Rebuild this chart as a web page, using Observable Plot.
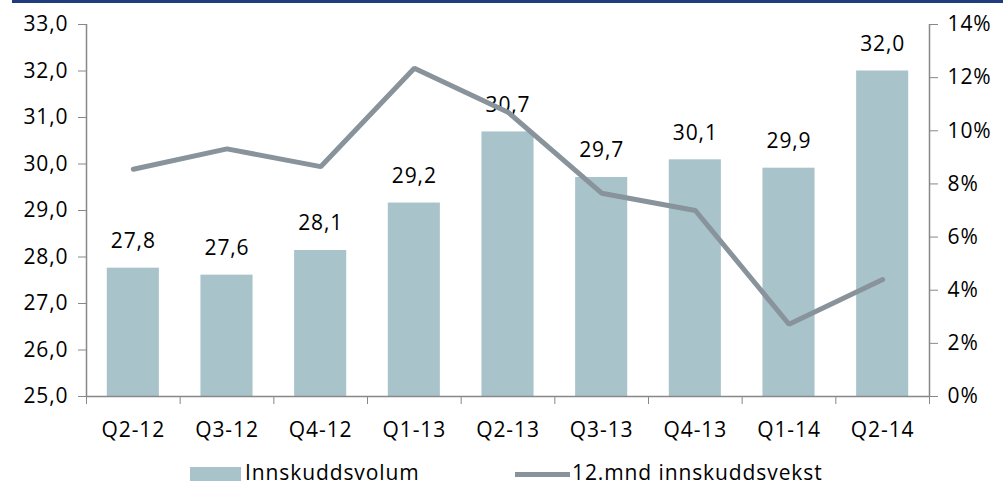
<!DOCTYPE html>
<html><head><meta charset="utf-8">
<script src="https://cdn.jsdelivr.net/npm/d3@7"></script>
<script src="https://cdn.jsdelivr.net/npm/@observablehq/plot@0.6"></script>
<style>
body{margin:0;background:#fff;font-family:"Open Sans",sans-serif;}
#wrap{position:relative;width:1003px;height:485px;}
#topline{position:absolute;left:12px;right:0;top:0;height:3px;background:#1f3c7c;}
#chart{position:absolute;left:0;top:0;}
#legend{position:absolute;top:461px;left:0;width:1003px;height:24px;font-size:21px;color:#000;}
.sw{position:absolute;}
.lt{position:absolute;top:-3px;letter-spacing:0.9px;white-space:nowrap;}
</style></head>
<body><div id="wrap"><div id="chart"></div><div id="topline"></div>
<div id="legend">
<div class="sw" style="left:190px;top:6px;width:51px;height:14px;background:#a9c3ca"></div>
<div class="lt" style="left:245px">Innskuddsvolum</div>
<div class="sw" style="left:515px;top:11px;width:55px;height:5px;background:#88939b"></div>
<div class="lt" style="left:572px">12.mnd innskuddsvekst</div>
</div></div>
<script>
const quarters = ["Q2-12","Q3-12","Q4-12","Q1-13","Q2-13","Q3-13","Q4-13","Q1-14","Q2-14"];
const volum = [27.76, 27.61, 28.14, 29.16, 30.69, 29.71, 30.09, 29.91, 32.0];
const volumLabels = ["27,8","27,6","28,1","29,2","30,7","29,7","30,1","29,9","32,0"];
const vekst = [8.55, 9.32, 8.65, 12.35, 10.7, 7.65, 7.0, 2.72, 4.4];
const leftTicks = [25,26,27,28,29,30,31,32,33];
const rightTicks = [0,2,4,6,8,10,12,14];

const toLeft = p => 25 + p * 8 / 14;
const data = quarters.map((q, i) => ({q, i, v: volum[i], lab: volumLabels[i], g: toLeft(vekst[i])}));
const half = 0.278;

const chart = Plot.plot({
  width: 1003, height: 455,
  marginLeft: 86, marginRight: 74, marginTop: 24, marginBottom: 59,
  style: {fontFamily: "Open Sans, sans-serif", fontSize: "21px", color: "#000", letterSpacing: "0.9px"},
  x: {domain: [0, 9], axis: null},
  y: {domain: [25, 33], axis: null},
  marks: [
    Plot.rectY(data, {x1: d => d.i + 0.5 - half, x2: d => d.i + 0.5 + half, y1: 25, y2: "v", fill: "#a9c3ca"}),
    Plot.text(data, {x: d => d.i + 0.5, y: "v", text: "lab", dy: -27, fill: "#000", fontSize: 21}),
    Plot.line(data, {x: d => d.i + 0.5, y: "g", stroke: "#88939b", strokeWidth: 5, strokeLinejoin: "miter"}),
    Plot.ruleX([0], {stroke: "#888", strokeWidth: 1.5}),
    Plot.ruleX([9], {stroke: "#888", strokeWidth: 1.5}),
    Plot.ruleY([25], {stroke: "#888", strokeWidth: 1.5}),
    Plot.axisY(leftTicks, {anchor: "left", tickSize: 8, tickPadding: 10, stroke: "#888", tickFormat: d => d.toFixed(1).replace(".", ","), fill: "#000", fontSize: 21}),
    Plot.axisY(rightTicks.map(toLeft), {anchor: "right", tickSize: 8, tickPadding: 10, stroke: "#888", tickFormat: d => Math.round((d - 25) * 14 / 8) + "%", fill: "#000", fontSize: 21}),
    Plot.axisX(d3.range(10), {anchor: "bottom", tickSize: 8, tickFormat: () => "", stroke: "#888"}),
    Plot.axisX(quarters.map((q, i) => i + 0.5), {anchor: "bottom", tickSize: 0, tickPadding: 26, tickFormat: d => quarters[Math.floor(d)], fill: "#000", fontSize: 21})
  ]
});
document.getElementById("chart").appendChild(chart);
</script></body></html>
